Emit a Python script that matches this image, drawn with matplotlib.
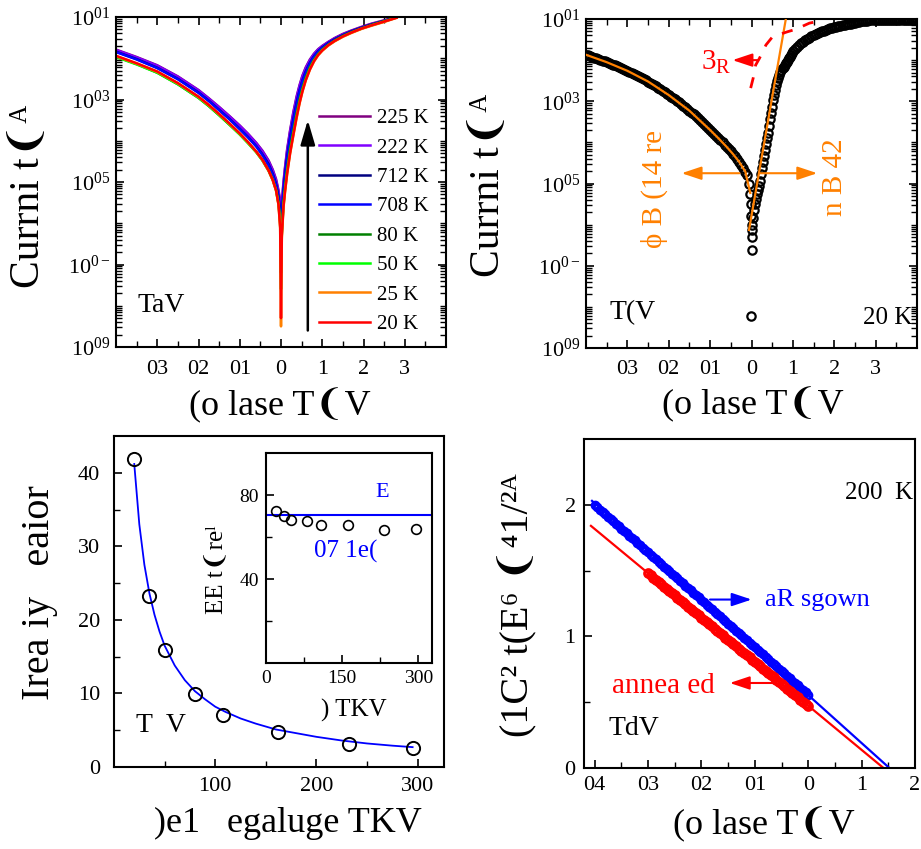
import numpy as np
import matplotlib
matplotlib.use("Agg")
import matplotlib.pyplot as plt
from matplotlib.ticker import FixedLocator, LogLocator, NullFormatter

plt.rcParams['font.family'] = ['Liberation Serif', 'DejaVu Sans']
plt.rcParams['mathtext.fontset'] = 'custom'
plt.rcParams['mathtext.rm'] = 'Liberation Serif'
plt.rcParams['mathtext.it'] = 'Liberation Serif:italic'
plt.rcParams['mathtext.bf'] = 'Liberation Serif:bold'
plt.rcParams['axes.linewidth'] = 1.5
plt.rcParams['xtick.direction'] = 'in'
plt.rcParams['ytick.direction'] = 'in'
plt.rcParams['xtick.major.size'] = 6
plt.rcParams['ytick.major.size'] = 6
plt.rcParams['xtick.minor.size'] = 4
plt.rcParams['ytick.minor.size'] = 4
plt.rcParams['xtick.major.width'] = 1.2
plt.rcParams['ytick.major.width'] = 1.2
plt.rcParams['xtick.minor.width'] = 1.0
plt.rcParams['ytick.minor.width'] = 1.0

# ---------------- data: panel (a) I-V at several temperatures (log10 I) ----------
V1 = [-4, -3.5, -3, -2.5, -2, -1.75, -1.5, -1.25, -1, -0.8, -0.6, -0.45, -0.3, -0.2, -0.12, -0.06, -0.02, 0,
      0.02, 0.06, 0.1, 0.15, 0.22, 0.3, 0.38, 0.45, 0.52, 0.6, 0.7, 0.8, 0.9, 1.0, 1.15, 1.3, 1.5, 1.7,
      1.95, 2.2, 2.5, 2.8]
temps_a = ['225 K', '222 K', '712 K', '708 K', '80 K', '50 K', '25 K', '20 K']
colors_a = ['#800080', '#8000ff', '#000080', '#0000ff', '#008000', '#00ff00', '#ff8000', '#ff0000']
logI_225 = [-1.79, -1.97, -2.17, -2.44, -2.77, -2.97, -3.18, -3.40, -3.63, -3.83, -4.05, -4.24, -4.48,
            -4.70, -4.93, -5.20, -5.45, -5.70,
            -5.50, -5.00, -4.62, -4.20, -3.75, -3.30, -2.92, -2.65, -2.42, -2.22, -2.03, -1.89, -1.78,
            -1.70, -1.60, -1.51, -1.41, -1.33, -1.24, -1.16, -1.08, -0.99]
logI_222 = [-1.80, -1.98, -2.18, -2.45, -2.78, -2.98, -3.19, -3.41, -3.64, -3.84, -4.06, -4.26, -4.50,
            -4.72, -4.96, -5.24, -5.50, -5.80,
            -5.55, -5.05, -4.66, -4.24, -3.78, -3.33, -2.95, -2.67, -2.44, -2.24, -2.05, -1.90, -1.79,
            -1.71, -1.61, -1.52, -1.42, -1.34, -1.25, -1.17, -1.09, -1.00]
logI_712 = [-1.84, -2.02, -2.23, -2.50, -2.83, -3.03, -3.25, -3.47, -3.71, -3.91, -4.13, -4.33, -4.57,
            -4.80, -5.05, -5.35, -5.70, -6.20,
            -5.80, -5.20, -4.80, -4.38, -3.92, -3.47, -3.07, -2.78, -2.54, -2.32, -2.11, -1.95, -1.83,
            -1.74, -1.63, -1.54, -1.44, -1.35, -1.26, -1.18, -1.10, -1.00]
logI_708 = [-1.85, -2.03, -2.24, -2.51, -2.84, -3.04, -3.26, -3.48, -3.72, -3.92, -4.14, -4.35, -4.60,
            -4.83, -5.08, -5.40, -5.75, -6.30,
            -5.85, -5.25, -4.85, -4.42, -3.96, -3.51, -3.10, -2.80, -2.56, -2.34, -2.12, -1.96, -1.84,
            -1.75, -1.64, -1.55, -1.45, -1.36, -1.27, -1.19, -1.10, -1.00]
logI_80 = [-1.96, -2.14, -2.35, -2.63, -2.96, -3.16, -3.38, -3.61, -3.84, -4.05, -4.27, -4.47, -4.72,
           -4.94, -5.18, -5.50, -5.95, -7.20,
           -6.20, -5.50, -5.10, -4.68, -4.20, -3.76, -3.33, -3.00, -2.73, -2.47, -2.22, -2.04, -1.90,
           -1.79, -1.67, -1.57, -1.46, -1.37, -1.28, -1.19, -1.10, -1.01]
logI_50 = [-1.97, -2.15, -2.35, -2.63, -2.96, -3.16, -3.38, -3.61, -3.85, -4.06, -4.28, -4.48, -4.73,
           -4.95, -5.20, -5.53, -6.00, -7.60,
           -6.25, -5.55, -5.15, -4.72, -4.25, -3.80, -3.37, -3.04, -2.76, -2.50, -2.24, -2.05, -1.91,
           -1.80, -1.68, -1.58, -1.47, -1.38, -1.28, -1.20, -1.11, -1.01]
logI_25 = [-1.95, -2.13, -2.33, -2.61, -2.94, -3.14, -3.36, -3.59, -3.83, -4.04, -4.27, -4.47, -4.73,
           -4.96, -5.21, -5.56, -6.12, -8.50,
           -6.35, -5.62, -5.22, -4.80, -4.32, -3.87, -3.44, -3.10, -2.81, -2.54, -2.28, -2.08, -1.93,
           -1.82, -1.69, -1.59, -1.48, -1.39, -1.29, -1.21, -1.12, -1.02]
logI_20 = [-1.94, -2.12, -2.32, -2.60, -2.93, -3.13, -3.35, -3.58, -3.82, -4.03, -4.26, -4.46, -4.72,
           -4.95, -5.20, -5.55, -6.10, -8.30,
           -6.30, -5.60, -5.20, -4.78, -4.30, -3.85, -3.42, -3.08, -2.80, -2.53, -2.27, -2.07, -1.92,
           -1.81, -1.68, -1.58, -1.47, -1.38, -1.28, -1.20, -1.11, -1.02]
series_a = [logI_225, logI_222, logI_712, logI_708, logI_80, logI_50, logI_25, logI_20]

# ---------------- data: panel (b) 20 K I-V with fits -----------------------------
V2_rev = [-4.00, -3.95, -3.90, -3.85, -3.80, -3.75, -3.70, -3.65, -3.60, -3.55,
          -3.50, -3.45, -3.40, -3.35, -3.30, -3.25, -3.20, -3.15, -3.10, -3.05,
          -3.00, -2.95, -2.90, -2.85, -2.80, -2.75, -2.70, -2.65, -2.60, -2.55,
          -2.50, -2.45, -2.40, -2.35, -2.30, -2.25, -2.20, -2.15, -2.10, -2.05,
          -2.00, -1.95, -1.90, -1.85, -1.80, -1.75, -1.70, -1.65, -1.60, -1.55,
          -1.50, -1.45, -1.40, -1.35, -1.30, -1.25, -1.20, -1.15, -1.10, -1.05,
          -1.00, -0.95, -0.90, -0.85, -0.80, -0.75, -0.70, -0.65, -0.60, -0.55,
          -0.50, -0.45, -0.40, -0.35, -0.30, -0.25, -0.20, -0.15, -0.10]
logI2_rev = [-1.870, -1.885, -1.900, -1.920, -1.940, -1.955, -1.970, -1.990, -2.010, -2.030,
             -2.050, -2.070, -2.090, -2.110, -2.130, -2.150, -2.170, -2.190, -2.210, -2.235,
             -2.260, -2.285, -2.310, -2.335, -2.360, -2.385, -2.410, -2.435, -2.460, -2.490,
             -2.520, -2.550, -2.580, -2.610, -2.640, -2.675, -2.710, -2.745, -2.780, -2.815,
             -2.850, -2.885, -2.920, -2.955, -2.990, -3.030, -3.070, -3.110, -3.150, -3.190,
             -3.230, -3.275, -3.320, -3.365, -3.410, -3.455, -3.500, -3.550, -3.600, -3.650,
             -3.700, -3.750, -3.800, -3.850, -3.900, -3.950, -4.000, -4.055, -4.110, -4.165,
             -4.220, -4.280, -4.340, -4.405, -4.470, -4.545, -4.620, -4.710, -4.800]
V2_dip = [-0.05, -0.03, -0.02, -0.01, 0.0, 0.0, -0.01, 0.01, 0.02]
logI2_dip = [-5.00, -5.25, -5.50, -5.80, -6.13, -6.61, -8.23, -6.30, -6.00]
V2_fwd = [0.025, 0.050, 0.075, 0.100, 0.125, 0.150, 0.175, 0.200, 0.225, 0.250,
          0.275, 0.300, 0.325, 0.350, 0.375, 0.400, 0.425, 0.450, 0.475, 0.500,
          0.525, 0.550, 0.575, 0.600, 0.625, 0.650, 0.675, 0.700, 0.725, 0.750,
          0.775, 0.800, 0.825, 0.850, 0.875, 0.900, 0.925, 0.950, 0.975,
          1.00, 1.05, 1.10, 1.15, 1.20, 1.25, 1.30, 1.35, 1.40, 1.45,
          1.50, 1.55, 1.60, 1.65, 1.70, 1.75, 1.80, 1.85, 1.90, 1.95,
          2.00, 2.05, 2.10, 2.15, 2.20, 2.25, 2.30, 2.35, 2.40, 2.45,
          2.50, 2.55, 2.60, 2.65, 2.70, 2.75, 2.80, 2.85, 2.90, 2.95, 3.00,
          3.05, 3.10, 3.15, 3.20, 3.25, 3.30, 3.35, 3.40, 3.45, 3.50,
          3.55, 3.60, 3.65, 3.70, 3.75, 3.80, 3.85, 3.90, 3.95, 4.00]
logI2_fwd = [-5.85, -5.65, -5.50, -5.38, -5.25, -5.15, -5.05, -4.93, -4.78, -4.63,
             -4.48, -4.33, -4.18, -4.04, -3.90, -3.76, -3.60, -3.44, -3.28, -3.13,
             -2.98, -2.85, -2.72, -2.61, -2.51, -2.43, -2.36, -2.30, -2.25, -2.20,
             -2.16, -2.12, -2.08, -2.04, -2.00, -1.96, -1.92, -1.88, -1.83,
             -1.790, -1.730, -1.680, -1.635, -1.595, -1.555, -1.520, -1.485, -1.455, -1.425,
             -1.395, -1.370, -1.345, -1.320, -1.300, -1.280, -1.260, -1.245, -1.230, -1.215,
             -1.200, -1.185, -1.170, -1.160, -1.150, -1.140, -1.130, -1.120, -1.110, -1.100,
             -1.090, -1.080, -1.070, -1.060, -1.050, -1.045, -1.040, -1.035, -1.030, -1.025, -1.020,
             -1.02, -1.02, -1.02, -1.02, -1.02, -1.02, -1.02, -1.02, -1.02, -1.02,
             -1.02, -1.02, -1.02, -1.02, -1.02, -1.02, -1.02, -1.02, -1.02, -1.02]
Vfit_rev = [-4.0, -3.5, -3.0, -2.5, -2.0, -1.5, -1.0, -0.8, -0.6, -0.45, -0.3, -0.15, -0.03]
logfit_rev = [-1.87, -2.05, -2.26, -2.52, -2.85, -3.23, -3.70, -3.90, -4.11, -4.28, -4.47, -4.71, -5.23]
Vfit_fwd = [-0.06, 0.83]
logfit_fwd = [-6.13, -1.0]
Vrs = [-0.02, 0.04, 0.10, 0.19, 0.35, 0.51, 0.87, 1.07, 1.40, 1.60]
logrs = [-2.68, -2.44, -2.12, -1.96, -1.63, -1.43, -1.31, -1.25, -1.10, -1.06]

# ---------------- data: panel (c) ideality factor vs temperature -----------------
T_c = [20, 35, 50, 80, 108, 162, 232, 295]
n_c = [41.9, 23.3, 15.9, 9.9, 7.05, 4.7, 3.15, 2.55]
T_cfit = [20, 25, 30, 35, 40, 45, 50, 60, 70, 80, 90, 100, 110, 125, 140, 160, 180, 200, 225, 250, 275, 295]
n_cfit = [41.2, 33.0, 27.5, 23.6, 20.7, 18.4, 16.5, 13.8, 11.8, 10.3, 9.2, 8.2, 7.5, 6.6, 5.9, 5.1,
          4.6, 4.1, 3.6, 3.2, 2.9, 2.7]
nT_in = [72.6, 70.2, 68.3, 67.6, 65.8, 65.5, 63.5, 63.9]
nT_line = 70.6

# ---------------- data: panel (d) 1/C^2 vs voltage ------------------------------
Vd_blue = [-4.00, -3.95, -3.90, -3.85, -3.80, -3.75, -3.70, -3.65, -3.60, -3.55,
           -3.50, -3.45, -3.40, -3.35, -3.30, -3.25, -3.20, -3.15, -3.10, -3.05,
           -3.00, -2.95, -2.90, -2.85, -2.80, -2.75, -2.70, -2.65, -2.60, -2.55,
           -2.50, -2.45, -2.40, -2.35, -2.30, -2.25, -2.20, -2.15, -2.10, -2.05,
           -2.00, -1.95, -1.90, -1.85, -1.80, -1.75, -1.70, -1.65, -1.60, -1.55,
           -1.50, -1.45, -1.40, -1.35, -1.30, -1.25, -1.20, -1.15, -1.10, -1.05,
           -1.00, -0.95, -0.90, -0.85, -0.80, -0.75, -0.70, -0.65, -0.60, -0.55,
           -0.50, -0.45, -0.40, -0.35, -0.30, -0.25, -0.20, -0.15, -0.10, -0.05, 0.00]
C_blue = [2.000, 1.982, 1.964, 1.946, 1.928, 1.910, 1.892, 1.874, 1.856, 1.838,
          1.819, 1.801, 1.783, 1.765, 1.747, 1.729, 1.711, 1.693, 1.675, 1.657,
          1.639, 1.621, 1.603, 1.585, 1.567, 1.549, 1.531, 1.513, 1.495, 1.477,
          1.458, 1.440, 1.422, 1.404, 1.386, 1.368, 1.350, 1.332, 1.314, 1.296,
          1.278, 1.260, 1.242, 1.224, 1.206, 1.188, 1.170, 1.152, 1.134, 1.116,
          1.098, 1.079, 1.061, 1.043, 1.025, 1.007, 0.989, 0.971, 0.953, 0.935,
          0.917, 0.899, 0.881, 0.863, 0.845, 0.827, 0.809, 0.791, 0.773, 0.755,
          0.737, 0.719, 0.700, 0.682, 0.664, 0.646, 0.628, 0.610, 0.592, 0.574, 0.556]
Vd_red = [-3.00, -2.95, -2.90, -2.85, -2.80, -2.75, -2.70, -2.65, -2.60, -2.55,
          -2.50, -2.45, -2.40, -2.35, -2.30, -2.25, -2.20, -2.15, -2.10, -2.05,
          -2.00, -1.95, -1.90, -1.85, -1.80, -1.75, -1.70, -1.65, -1.60, -1.55,
          -1.50, -1.45, -1.40, -1.35, -1.30, -1.25, -1.20, -1.15, -1.10, -1.05,
          -1.00, -0.95, -0.90, -0.85, -0.80, -0.75, -0.70, -0.65, -0.60, -0.55,
          -0.50, -0.45, -0.40, -0.35, -0.30, -0.25, -0.20, -0.15, -0.10, -0.05, 0.00]
C_red = [1.480, 1.463, 1.446, 1.429, 1.413, 1.396, 1.379, 1.362, 1.345, 1.328,
         1.312, 1.295, 1.278, 1.261, 1.244, 1.227, 1.210, 1.194, 1.177, 1.160,
         1.143, 1.126, 1.109, 1.092, 1.076, 1.059, 1.042, 1.025, 1.008, 0.991,
         0.975, 0.958, 0.941, 0.924, 0.907, 0.890, 0.873, 0.857, 0.840, 0.823,
         0.806, 0.789, 0.772, 0.755, 0.739, 0.722, 0.705, 0.688, 0.671, 0.654,
         0.638, 0.621, 0.604, 0.587, 0.570, 0.553, 0.536, 0.520, 0.503, 0.486, 0.469]
Vline_blue = [-4.05, 1.52]
Cline_blue = [2.03, 0.0]
Vline_red = [-4.07, 1.41]
Cline_red = [1.84, 0.0]

# tick labels
xt_iv = [-3, -2, -1, 0, 1, 2, 3]
xt_iv_lab = ['03', '02', '01', '0', '1', '2', '3']
yt_log = [1e-9, 1e-7, 1e-5, 1e-3, 1e-1]
yt_log_lab = [r'$\mathregular{10^{09}}$', r'$\mathregular{10^{0-}}$', r'$\mathregular{10^{05}}$',
              r'$\mathregular{10^{03}}$', r'$\mathregular{10^{01}}$']
xt_d = [-4, -3, -2, -1, 0, 1, 2]
xt_d_lab = ['04', '03', '02', '01', '0', '1', '2']

ORANGE = '#ff8000'
W, H = 921, 849
fig = plt.figure(figsize=(W / 100, H / 100), dpi=100)


def axpix(l, r, t, b):
    return [l / W, 1 - b / H, (r - l) / W, (b - t) / H]


def iv_axes(ax):
    ax.set_xlim(-4, 4)
    ax.set_yscale('log')
    ax.set_ylim(1e-9, 1e-1)
    ax.set_xticks(xt_iv)
    ax.set_xticklabels(xt_iv_lab)
    ax.xaxis.set_minor_locator(FixedLocator([-3.5, -2.5, -1.5, -0.5, 0.5, 1.5, 2.5, 3.5]))
    ax.set_yticks(yt_log)
    ax.set_yticklabels(yt_log_lab)
    ax.yaxis.set_minor_locator(LogLocator(base=10, subs=np.arange(1, 10), numticks=50))
    ax.yaxis.set_minor_formatter(NullFormatter())
    ax.tick_params(axis='both', which='both', top=True, right=True, labelsize=16)
    ax.tick_params(axis='x', which='both', pad=9)
    ax.tick_params(axis='y', which='both', pad=4)


arrow_kw = dict(mutation_scale=20, shrinkA=0, shrinkB=0)

# ---------------- panel (a) ----------------
ax1 = fig.add_axes(axpix(116, 446, 17, 347))
for lab, c, arr in zip(temps_a, colors_a, series_a):
    ax1.plot(V1, 10 ** np.array(arr), color=c, lw=1.8, label=lab)
iv_axes(ax1)
ax1.legend(loc='upper left', bbox_to_anchor=(0.615, 0.722), frameon=False, fontsize=15,
           handlelength=2.45, handletextpad=0.35, labelspacing=0.47, borderpad=0, borderaxespad=0)
ax1.annotate('', xy=(0.65, 10 ** -3.5), xytext=(0.65, 10 ** -8.6),
             arrowprops=dict(arrowstyle='-|>,head_length=0.75,head_width=0.22', color='k', lw=1.8,
                             **arrow_kw))
ax1.text(-3.47, 10 ** -8.0, 'TaV', fontsize=20, ha='left', va='center')
ax1.text(-0.267, 0.455, 'Currni t❨ᴬ', transform=ax1.transAxes, rotation=90, fontsize=30,
         ha='center', va='center')
ax1.text(0.497, -0.176, '(o lase T❨V', transform=ax1.transAxes, fontsize=26,
         ha='center', va='center')

# ---------------- panel (b) ----------------
ax2 = fig.add_axes(axpix(586, 917, 19, 348))
V2 = V2_rev + V2_dip + V2_fwd
logI2 = logI2_rev + logI2_dip + logI2_fwd
ax2.plot(V2, 10 ** np.array(logI2), 'o', mfc='none', mec='k', ms=6, mew=1.6, zorder=2)
ax2.plot(Vfit_rev, 10 ** np.array(logfit_rev), color=ORANGE, lw=1.6, zorder=3)
ax2.plot(Vfit_fwd, 10 ** np.array(logfit_fwd), color=ORANGE, lw=1.6, zorder=3)
ax2.plot(Vrs, 10 ** np.array(logrs), color='red', lw=2, dashes=(4, 4), zorder=3)
iv_axes(ax2)
ax2.annotate('', xy=(-0.46, 10 ** -2.0), xytext=(0.14, 10 ** -2.0),
             arrowprops=dict(arrowstyle='-|>,head_length=0.6,head_width=0.2', color='red', lw=1.5,
                             **arrow_kw))
ax2.text(-0.48, 10 ** -2.05, r'3$_\mathregular{R}$', color='red', fontsize=21, ha='right', va='center')
ax2.annotate('', xy=(-1.69, 10 ** -4.75), xytext=(-0.29, 10 ** -4.75),
             arrowprops=dict(arrowstyle='-|>,head_length=0.6,head_width=0.2', color=ORANGE, lw=1.5,
                             **arrow_kw))
ax2.annotate('', xy=(1.59, 10 ** -4.75), xytext=(0.19, 10 ** -4.75),
             arrowprops=dict(arrowstyle='-|>,head_length=0.6,head_width=0.2', color=ORANGE, lw=1.5,
                             **arrow_kw))
ax2.text(-2.34, 10 ** -5.14, 'ϕ B (14 re', color=ORANGE, fontsize=21, rotation=90,
         ha='center', va='center')
ax2.text(2.02, 10 ** -4.84, 'n B 42', color=ORANGE, fontsize=21, rotation=90,
         ha='center', va='center')
ax2.text(-3.42, 10 ** -8.13, 'T(V', fontsize=20, ha='left', va='center')
ax2.text(3.88, 10 ** -8.27, '20 K', fontsize=18, ha='right', va='center')
ax2.text(-0.296, 0.495, 'Currni t❨ᴬ', transform=ax2.transAxes, rotation=90, fontsize=30,
         ha='center', va='center')
ax2.text(0.505, -0.173, '(o lase T❨V', transform=ax2.transAxes, fontsize=26,
         ha='center', va='center')

# ---------------- panel (c) ----------------
ax3 = fig.add_axes(axpix(114, 444, 436, 767))
ax3.plot(T_cfit, n_cfit, color='blue', lw=1.3, zorder=2)
ax3.plot(T_c, n_c, 'o', mfc='none', mec='k', ms=9.5, mew=1.4, zorder=3)
ax3.set_xlim(0, 326)
ax3.set_ylim(0, 45)
ax3.set_xticks([100, 200, 300])
ax3.xaxis.set_minor_locator(FixedLocator([50, 150, 250]))
ax3.set_yticks([0, 10, 20, 30, 40])
ax3.yaxis.set_minor_locator(FixedLocator([5, 15, 25, 35]))
ax3.tick_params(axis='both', which='both', labelsize=16)
ax3.tick_params(axis='y', pad=10)
ax3.tick_params(axis='x', pad=7)
ax3.text(22, 5.7, 'T  V', fontsize=20, ha='left', va='center')
ax3.text(-0.227, 0.526, 'Irea iy   eaior', transform=ax3.transAxes, rotation=90, fontsize=29,
         ha='center', va='center')
ax3.text(0.527, -0.172, ')e1   egaluge TKV', transform=ax3.transAxes, fontsize=26,
         ha='center', va='center')

# inset
axi = fig.add_axes(axpix(266, 432, 453, 663))
axi.axhline(nT_line, color='blue', lw=1.5, zorder=2)
axi.plot(T_c, nT_in, 'o', mfc='none', mec='k', ms=7, mew=1.2, zorder=3)
axi.set_xlim(0, 327)
axi.set_ylim(0, 100)
axi.set_xticks([0, 150, 300])
axi.xaxis.set_minor_locator(FixedLocator([75, 225]))
axi.set_yticks([40, 80])
axi.yaxis.set_minor_locator(FixedLocator([20, 60]))
axi.tick_params(axis='both', which='both', labelsize=14)
axi.tick_params(axis='y', pad=5)
axi.tick_params(axis='x', pad=5)
axi.text(229, 81, 'E', color='blue', fontsize=16, ha='center', va='center')
axi.text(156, 53, '07 1e(', color='blue', fontsize=18, ha='center', va='center')
axi.text(-0.30, 0.443, 'EE t❨reˡ', transform=axi.transAxes, rotation=90, fontsize=18,
         ha='center', va='center')
axi.text(0.53, -0.224, ') TKV', transform=axi.transAxes, fontsize=18, ha='center', va='center')

# ---------------- panel (d) ----------------
ax4 = fig.add_axes(axpix(584, 915, 439, 768))
ax4.plot(Vline_blue, Cline_blue, color='blue', lw=1.6, zorder=2)
ax4.plot(Vline_red, Cline_red, color='red', lw=1.6, zorder=2)
ax4.plot(Vd_blue, C_blue, 'o', mfc='none', mec='blue', ms=4.8, mew=2.2, zorder=3)
ax4.plot(Vd_red, C_red, 'o', mfc='none', mec='red', ms=5.3, mew=2.4, zorder=3)
ax4.set_xlim(-4.2, 2)
ax4.set_ylim(0, 2.5)
ax4.set_xticks(xt_d)
ax4.set_xticklabels(xt_d_lab)
ax4.xaxis.set_minor_locator(FixedLocator([-3.5, -2.5, -1.5, -0.5, 0.5, 1.5]))
ax4.set_yticks([0, 1, 2])
ax4.yaxis.set_minor_locator(FixedLocator([0.5, 1.5]))
ax4.tick_params(axis='both', which='both', labelsize=16)
ax4.tick_params(axis='both', pad=6)
ax4.annotate('', xy=(-1.06, 1.28), xytext=(-1.84, 1.28),
             arrowprops=dict(arrowstyle='-|>,head_length=0.6,head_width=0.2', color='blue', lw=1.5,
                             **arrow_kw))
ax4.text(-0.81, 1.28, 'aR sgown', color='blue', fontsize=19, ha='left', va='center')
ax4.annotate('', xy=(-1.47, 0.646), xytext=(-0.63, 0.646),
             arrowprops=dict(arrowstyle='-|>,head_length=0.6,head_width=0.2', color='red', lw=1.5,
                             **arrow_kw))
ax4.text(-1.75, 0.62, 'annea ed', color='red', fontsize=21, ha='right', va='center')
ax4.text(1.96, 2.09, '200  K', fontsize=18, ha='right', va='center')
ax4.text(-3.75, 0.30, 'TdV', fontsize=20, ha='left', va='center')
ax4.text(-0.20, 0.495, '(1C² t(E⁶ ❨⁴1/²ᴬ', transform=ax4.transAxes, rotation=90, fontsize=29,
         ha='center', va='center')
ax4.text(0.544, -0.173, '(o lase T❨V', transform=ax4.transAxes, fontsize=26,
         ha='center', va='center')

fig.savefig('out.png', dpi=100)
